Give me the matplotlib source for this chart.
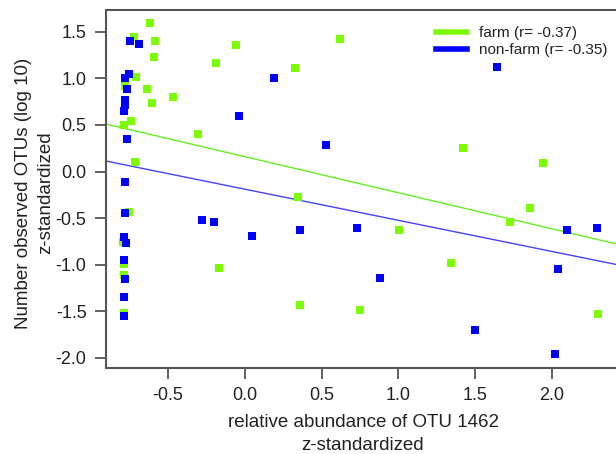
import matplotlib
matplotlib.use("Agg")
import matplotlib.pyplot as plt
from matplotlib.lines import Line2D

plt.rcParams['font.family'] = ['Liberation Sans', 'DejaVu Sans']

farm_x = [-0.619, -0.723, -0.586, -0.593, -0.71, -0.638, -0.469, -0.606, -0.78, -0.743,
          -0.788, -0.306, -0.717, -0.756, -0.795, -0.788, -0.788, -0.788,
          -0.059, -0.189, 0.326, 0.619, 0.345, -0.169, 0.358, 0.749, 1.003,
          1.42, 1.94, 1.857, 1.726, 1.342, 2.30]
farm_y = [1.593, 1.443, 1.40, 1.23, 1.01, 0.88, 0.80, 0.735, 0.92, 0.54,
          0.50, 0.40, 0.10, -0.435, -0.76, -0.99, -1.11, -1.52,
          1.357, 1.165, 1.11, 1.42, -0.27, -1.035, -1.43, -1.49, -0.628,
          0.25, 0.09, -0.39, -0.54, -0.98, -1.53]

nonfarm_x = [-0.749, -0.69, -0.756, -0.78, -0.768, -0.78, -0.78, -0.788, -0.768, -0.78,
             -0.78, -0.788, -0.775, -0.788, -0.78, -0.788, -0.788,
             0.19, -0.04, 0.528, -0.28, -0.20, 0.046, 0.358, 0.73, 0.88,
             2.10, 2.29, 2.04, 1.50, 2.02, 1.64]
nonfarm_y = [1.40, 1.37, 1.05, 1.0, 0.89, 0.77, 0.71, 0.65, 0.35, -0.11,
             -0.45, -0.70, -0.77, -0.95, -1.15, -1.35, -1.55,
             1.0, 0.60, 0.285, -0.52, -0.54, -0.69, -0.63, -0.61, -1.14,
             -0.63, -0.61, -1.05, -1.70, -1.96, 1.12]

# regression lines (intercept, slope)
farm_fit = (0.159, -0.387)
nonfarm_fit = (-0.19, -0.334)

labels = ["farm (r= -0.37)", "non-farm (r= -0.35)"]
x_ticks = [-0.5, 0.0, 0.5, 1.0, 1.5, 2.0]
y_ticks = [-2.0, -1.5, -1.0, -0.5, 0.0, 0.5, 1.0, 1.5]
green = "#7CFC00"
blue = "#0000FF"

W, H = 616, 454
fig = plt.figure(figsize=(W / 100, H / 100), dpi=100)
ax = fig.add_axes([106 / W, 1 - 368 / H, (620 - 106) / W, (368 - 10) / H])

ax.scatter(farm_x, farm_y, marker='s', s=26, color=green, linewidths=0, zorder=3)
ax.scatter(nonfarm_x, nonfarm_y, marker='s', s=30, color=blue, linewidths=0, zorder=3)

ax.axline((0, farm_fit[0]), slope=farm_fit[1], color="#66ee22", lw=1.0, zorder=2)
ax.axline((0, nonfarm_fit[0]), slope=nonfarm_fit[1], color="#4444ff", lw=1.0, zorder=2)

ax.set_xlim(-0.905, (620 - 245) / 153.5)
ax.set_ylim((171.5 - 368) / 93.2, (171.5 - 10) / 93.2)

ax.set_xticks(x_ticks)
ax.set_xticklabels([f"{v:.1f}" for v in x_ticks])
ax.set_yticks(y_ticks)
ax.set_yticklabels([f"{v:.1f}" for v in y_ticks])

for s in ax.spines.values():
    s.set_color("#555555")
    s.set_linewidth(1.5)
ax.tick_params(axis='both', direction='out', length=8, width=1.3, color="#555555",
               labelsize=13, labelcolor="#222222", pad=6)

ax.set_xlabel("relative abundance of OTU 1462\nz-standardized", fontsize=13.5,
              color="#222222", linespacing=1.4, va='center')
ax.xaxis.set_label_coords(363 / W, 1 - 434 / H, transform=fig.transFigure)
ax.set_ylabel("Number observed OTUs (log 10)\nz-standardized", fontsize=13.5,
              color="#222222", linespacing=1.4, va='center')
ax.yaxis.set_label_coords(34.5 / W, 1 - 193 / H, transform=fig.transFigure)

handles = [Line2D([0], [0], color=green, lw=4), Line2D([0], [0], color=blue, lw=4)]
leg = ax.legend(handles, labels, loc='upper left', frameon=False, fontsize=11,
                handlelength=2.0, handletextpad=0.8, labelspacing=0.2, borderaxespad=0.0,
                borderpad=0.0)
leg.set_bbox_to_anchor((436 / W, 1 - 26 / H), transform=fig.transFigure)
for t in leg.get_texts():
    t.set_color("#222222")

fig.savefig("out.png", dpi=100)
